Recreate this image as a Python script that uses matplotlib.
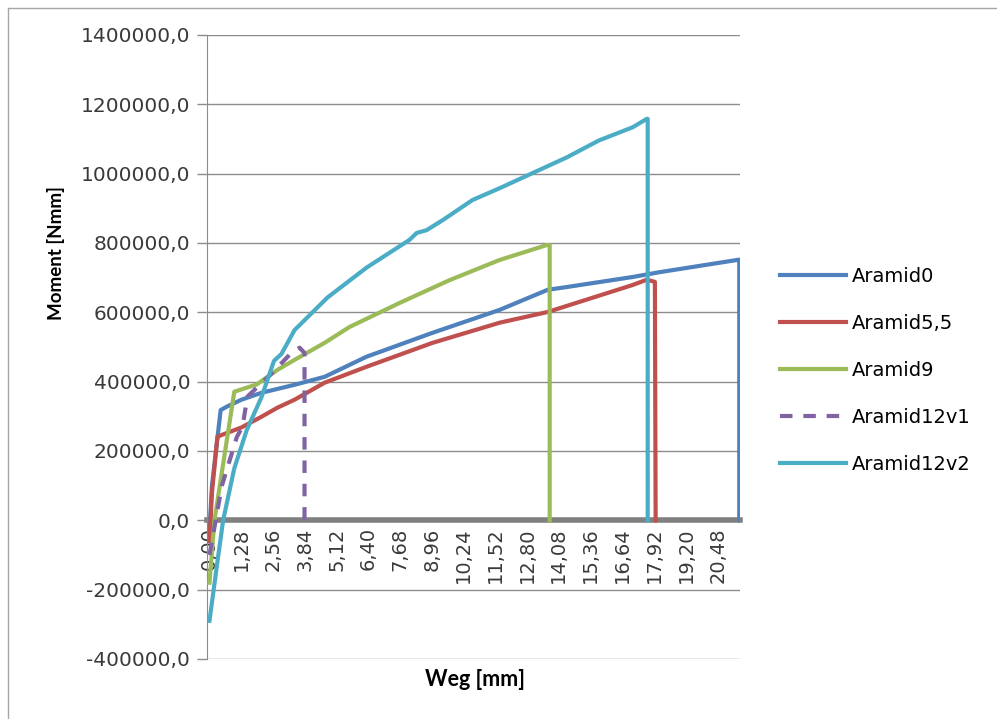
import numpy as np
import matplotlib.pyplot as plt
import matplotlib as mpl
from matplotlib.lines import Line2D
from matplotlib.ticker import FuncFormatter

mpl.use('Agg')
plt.rcParams['font.family'] = 'DejaVu Sans'

# Weg [mm] / Moment [Nmm]
aramid0_x = [0.0, 0.1, 0.45, 0.7, 1.29, 2.1, 3.43, 4.64, 6.33, 8.99, 11.69, 13.63, 14.4, 17.06, 18.15, 21.35, 21.35]
aramid0_y = [-30000, 100000, 318000, 328000, 348000, 368000, 391000, 414000, 472000, 541000, 607000, 665000,
             673000, 702000, 716000, 752000, 0]

aramid55_x = [0.0, 0.1, 0.32, 0.52, 1.29, 2.1, 2.74, 3.43, 4.64, 6.33, 8.99, 11.69, 13.63, 17.06, 17.62, 17.95, 17.98]
aramid55_y = [-60000, 80000, 241000, 247000, 268000, 299000, 325000, 348000, 397000, 443000, 512000, 570000,
              601000, 679000, 694000, 688000, 0]

aramid9_x = [0.0, 0.2, 1.0, 1.9, 2.74, 3.43, 4.64, 5.65, 7.66, 9.68, 11.69, 13.59, 13.71, 13.71]
aramid9_y = [-180000, 0, 371000, 392000, 434000, 463000, 512000, 558000, 627000, 693000, 751000, 794000, 794000, 0]

aramid12v1_x = [0.0, 0.5, 1.1, 1.33, 1.53, 2.54, 3.23, 3.63, 3.83, 3.83]
aramid12v1_y = [-100000, 100000, 240000, 270000, 357000, 426000, 478000, 498000, 483000, 0]

aramid12v2_x = [0.0, 0.3, 0.55, 1.0, 1.5, 2.1, 2.6, 2.9, 3.43, 4.76, 6.33, 8.06, 8.35, 8.75, 9.4, 10.6, 11.69,
                13.0, 14.4, 15.7, 17.06, 17.62, 17.66, 17.66]
aramid12v2_y = [-290000, -130000, 0, 150000, 260000, 356000, 460000, 480000, 549000, 643000, 729000, 809000,
                829000, 837000, 866000, 924000, 958000, 1001000, 1047000, 1096000, 1134000, 1158000, 1158000, 0]

labels = ['Aramid0', 'Aramid5,5', 'Aramid9', 'Aramid12v1', 'Aramid12v2']
colours = ['#4F81BD', '#C0504D', '#9BBB59', '#8064A2', '#4BACC6']
x_ticks = np.arange(17) * 1.28
y_ticks = np.arange(-400000, 1400001, 200000)

fig = plt.figure(figsize=(9.97, 7.19), dpi=100)
ax = fig.add_axes([207 / 997, 1 - 659 / 719, 533 / 997, 624 / 719])

series = [(aramid0_x, aramid0_y), (aramid55_x, aramid55_y), (aramid9_x, aramid9_y),
          (aramid12v1_x, aramid12v1_y), (aramid12v2_x, aramid12v2_y)]
for (xs, ys), lab, col in zip(series, labels, colours):
    if lab == 'Aramid12v1':
        ax.plot(xs, ys, color=col, linewidth=3, linestyle=(0, (3, 2.6)), label=lab, zorder=3)
    else:
        ax.plot(xs, ys, color=col, linewidth=3, label=lab, zorder=3, solid_joinstyle='round')

ax.set_xlim(-0.1, 21.38)
ax.set_ylim(-400000, 1400000)
ax.set_yticks(y_ticks)
ax.set_xticks(x_ticks)
ax.yaxis.set_major_formatter(FuncFormatter(lambda v, p: f'{v:.1f}'.replace('.', ',')))
ax.xaxis.set_major_formatter(FuncFormatter(lambda v, p: f'{v:.2f}'.replace('.', ',')))
ax.grid(axis='y', color='#8c8c8c', linewidth=1)
ax.set_axisbelow(True)

for s in ['top', 'right']:
    ax.spines[s].set_visible(False)
ax.spines['left'].set_color('#8c8c8c')
ax.spines['bottom'].set_position(('data', 0))
ax.spines['bottom'].set_color('#808080')
ax.spines['bottom'].set_linewidth(4)
ax.spines['bottom'].set_zorder(2)

ax.tick_params(axis='y', length=7, width=1, color='#8c8c8c', pad=5, labelsize=14.5, labelcolor='#3a3a3a')
ax.tick_params(axis='x', length=0, pad=5, labelsize=14, labelcolor='#3a3a3a', labelrotation=90)
for t in ax.get_xticklabels():
    t.set_va('top')

fig.text(56 / 997, 1 - 253 / 719, 'Moment [Nmm]', rotation=90, ha='center', va='center',
         fontsize=13.5, fontweight='bold', family='Lato')
fig.text(475 / 997, 1 - 680 / 719, 'Weg [mm]', ha='center', va='center',
         fontsize=15.5, fontweight='bold', family='Lato')

fig.legend(loc='upper left', bbox_to_anchor=(762 / 997, 1 - 249 / 719), frameon=False,
           fontsize=14, handlelength=3.4, handletextpad=0.3, labelspacing=1.45)

# outer frame, only left and top edge visible in the screenshot
fig.add_artist(Line2D([8 / 997, 8 / 997], [0, 1 - 8 / 719], transform=fig.transFigure, color='#a6a6a6', linewidth=1))
fig.add_artist(Line2D([8 / 997, 1], [1 - 8 / 719, 1 - 8 / 719], transform=fig.transFigure, color='#a6a6a6', linewidth=1))

plt.savefig('out.png', dpi=100)
